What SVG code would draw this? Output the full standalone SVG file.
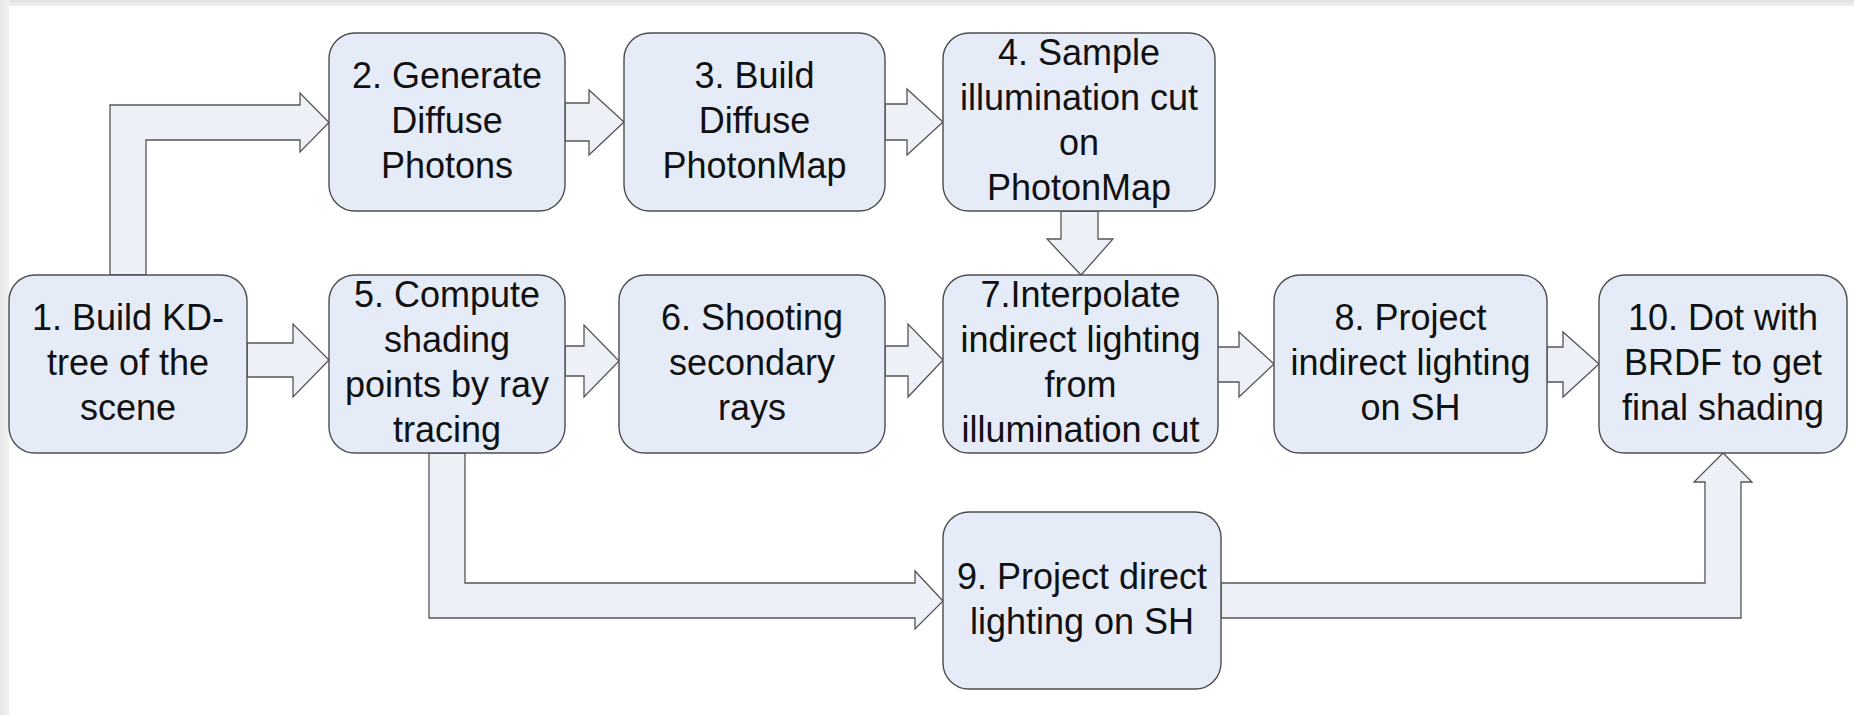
<svg xmlns="http://www.w3.org/2000/svg" width="1854" height="715" viewBox="0 0 1854 715">
  <defs>
    <linearGradient id="topEdge" x1="0" y1="0" x2="0" y2="1">
      <stop offset="0" stop-color="#e2e2e2"/>
      <stop offset="1" stop-color="#f0f0f0"/>
    </linearGradient>
    <linearGradient id="leftEdge" x1="0" y1="0" x2="1" y2="0">
      <stop offset="0" stop-color="#e6e6e6"/>
      <stop offset="1" stop-color="#f2f2f2"/>
    </linearGradient>
  </defs>
  <style>
    .node { fill: #e6ecf7; stroke: #4d4d4d; stroke-width: 1.4; }
    .arrow { fill: #edf0f6; stroke: #555555; stroke-width: 1.3; stroke-linejoin: miter; }
    .label { font-family: "Liberation Sans", Arial, sans-serif; font-size: 36px; fill: #111111; text-anchor: middle; }
  </style>

  <!-- page background and frame edges -->
  <rect x="0" y="0" width="1854" height="715" fill="#ffffff"/>
  <rect x="0" y="0" width="1854" height="6" fill="url(#topEdge)"/>
  <rect x="0" y="0" width="9" height="715" fill="url(#leftEdge)"/>

  <!-- block arrows -->
  <g id="connectors">
    <!-- 1 -> 2 (bent up and right) -->
    <polygon class="arrow" points="110,275 110,105 300,105 300,93 329,122.5 300,152 300,140 146,140 146,275"/>
    <!-- 2 -> 3 -->
    <polygon class="arrow" points="565,103 589,103 589,90 624,122 589,155 589,141 565,141"/>
    <!-- 3 -> 4 -->
    <polygon class="arrow" points="885,104 907,104 907,89 943,122 907,155 907,140 885,140"/>
    <!-- 4 -> 7 (down) -->
    <polygon class="arrow" points="1061,211 1061,239 1047,239 1081,275 1113,239 1098,239 1098,211"/>
    <!-- 1 -> 5 -->
    <polygon class="arrow" points="247,343 293,343 293,324 329,360 293,397 293,377 247,377"/>
    <!-- 5 -> 6 -->
    <polygon class="arrow" points="565,346 584,346 584,325 619,361 584,397 584,376 565,376"/>
    <!-- 6 -> 7 -->
    <polygon class="arrow" points="885,346 908,346 908,324 943,360 908,397 908,376 885,376"/>
    <!-- 7 -> 8 -->
    <polygon class="arrow" points="1217,347 1239,347 1239,332 1274,364 1239,397 1239,382 1217,382"/>
    <!-- 8 -> 10 -->
    <polygon class="arrow" points="1547,347 1563,347 1563,332 1599,364 1563,397 1563,382 1547,382"/>
    <!-- 5 -> 9 (down and right) -->
    <polygon class="arrow" points="429,453 429,618 915,618 915,629 943,601 915,571 915,583 465,583 465,453"/>
    <!-- 9 -> 10 (right and up) -->
    <polygon class="arrow" points="1221,583 1705,583 1705,482 1694,482 1723,453 1752,482 1741,482 1741,618 1221,618"/>
  </g>

  <!-- process steps -->
  <g id="node1">
    <rect class="node" x="9" y="275" width="238" height="178" rx="26"/>
    <text class="label"><tspan x="128" y="330">1. Build KD-</tspan><tspan x="128" y="375">tree of the</tspan><tspan x="128" y="420">scene</tspan></text>
  </g>
  <g id="node2">
    <rect class="node" x="329" y="33" width="236" height="178" rx="26"/>
    <text class="label"><tspan x="447" y="88">2. Generate</tspan><tspan x="447" y="133">Diffuse</tspan><tspan x="447" y="178">Photons</tspan></text>
  </g>
  <g id="node3">
    <rect class="node" x="624" y="33" width="261" height="178" rx="26"/>
    <text class="label"><tspan x="754.5" y="88">3. Build</tspan><tspan x="754.5" y="133">Diffuse</tspan><tspan x="754.5" y="178">PhotonMap</tspan></text>
  </g>
  <g id="node4">
    <rect class="node" x="943" y="33" width="272" height="178" rx="26"/>
    <text class="label"><tspan x="1079" y="65">4. Sample</tspan><tspan x="1079" y="110">illumination cut</tspan><tspan x="1079" y="155">on</tspan><tspan x="1079" y="200">PhotonMap</tspan></text>
  </g>
  <g id="node5">
    <rect class="node" x="329" y="275" width="236" height="178" rx="26"/>
    <text class="label"><tspan x="447" y="307">5. Compute</tspan><tspan x="447" y="352">shading</tspan><tspan x="447" y="397">points by ray</tspan><tspan x="447" y="442">tracing</tspan></text>
  </g>
  <g id="node6">
    <rect class="node" x="619" y="275" width="266" height="178" rx="26"/>
    <text class="label"><tspan x="752" y="330">6. Shooting</tspan><tspan x="752" y="375">secondary</tspan><tspan x="752" y="420">rays</tspan></text>
  </g>
  <g id="node7">
    <rect class="node" x="943" y="275" width="275" height="178" rx="26"/>
    <text class="label"><tspan x="1080.5" y="307">7.Interpolate</tspan><tspan x="1080.5" y="352">indirect lighting</tspan><tspan x="1080.5" y="397">from</tspan><tspan x="1080.5" y="442">illumination cut</tspan></text>
  </g>
  <g id="node8">
    <rect class="node" x="1274" y="275" width="273" height="178" rx="26"/>
    <text class="label"><tspan x="1410.5" y="330">8. Project</tspan><tspan x="1410.5" y="375">indirect lighting</tspan><tspan x="1410.5" y="420">on SH</tspan></text>
  </g>
  <g id="node9">
    <rect class="node" x="943" y="512" width="278" height="177" rx="26"/>
    <text class="label"><tspan x="1082" y="589">9. Project direct</tspan><tspan x="1082" y="634">lighting on SH</tspan></text>
  </g>
  <g id="node10">
    <rect class="node" x="1599" y="275" width="248" height="178" rx="26"/>
    <text class="label"><tspan x="1723" y="330">10. Dot with</tspan><tspan x="1723" y="375">BRDF to get</tspan><tspan x="1723" y="420">final shading</tspan></text>
  </g>
</svg>
